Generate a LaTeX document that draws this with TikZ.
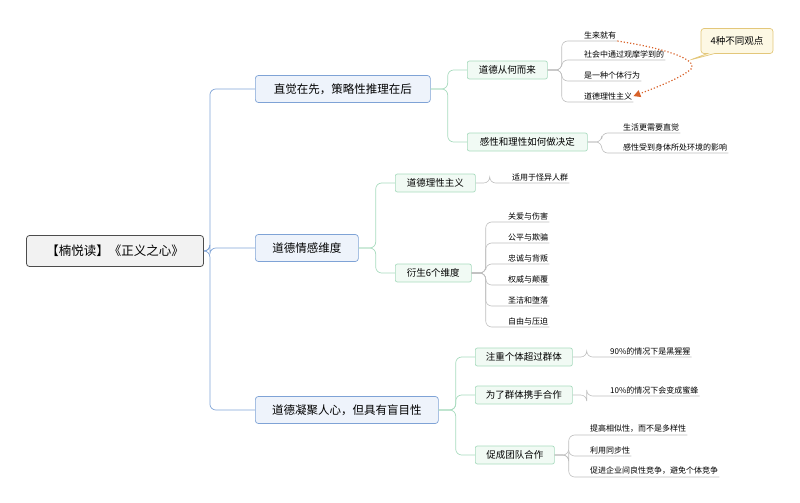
\documentclass[tikz,border=0pt]{standalone}
\usepackage{fontspec}
\setmainfont{Noto Sans CJK SC}
\usetikzlibrary{positioning,arrows.meta,shapes.callouts}
\definecolor{blueline}{HTML}{7FA3D6}
\definecolor{bluefill}{HTML}{EEF3FB}
\definecolor{greenline}{HTML}{A8DBBE}
\definecolor{greenfill}{HTML}{F1FAF4}
\definecolor{leafline}{HTML}{BDBDBD}
\definecolor{notefill}{HTML}{FDF8E4}
\definecolor{noteline}{HTML}{E3C77A}
\definecolor{dotorange}{HTML}{D8622A}
\begin{document}
\begin{tikzpicture}[x=1pt,y=-1pt]
\tikzset{root/.style={draw=black!70,fill=black!5,rounded corners=3pt,line width=0.8pt,minimum width=177pt,minimum height=31pt,font=\fontsize{12.5}{14}\selectfont},
topic/.style={anchor=west,draw=blueline,fill=bluefill,rounded corners=3pt,line width=0.7pt,minimum height=27pt,font=\fontsize{11.5}{13}\selectfont},
sub/.style={anchor=west,draw=greenline,fill=greenfill,rounded corners=2pt,line width=0.7pt,minimum height=18pt,font=\fontsize{9.5}{11}\selectfont},
leaf/.style={anchor=south west,inner xsep=1pt,inner ysep=2pt,font=\fontsize{8}{9}\selectfont},
bline/.style={blueline,line width=0.7pt,rounded corners=6pt},
gline/.style={greenline,line width=0.7pt,rounded corners=6pt},
lline/.style={leafline,line width=0.6pt,rounded corners=6pt}}
\useasboundingbox (0,0) rectangle (800,503);

\node[root] (book) at (115,251) {【楠悦读】《正义之心》};
\node[topic,minimum width=175pt] (t1) at (255,89) {直觉在先，策略性推理在后};
\node[topic,minimum width=103pt] (t2) at (255,248) {道德情感维度};
\node[topic,minimum width=183pt] (t3) at (255,410) {道德凝聚人心，但具有盲目性};
\foreach \t in {t1,t2,t3}
\draw[bline] (book.east) -- ++(6,0) |- (\t.west);

\node[sub,minimum width=80pt] (s1) at (467,70) {道德从何而来};
\node[sub,minimum width=120pt] (s2) at (467,142) {感性和理性如何做决定};
\node[sub,minimum width=80pt] (s3) at (395,183) {道德理性主义};
\node[sub,minimum width=76pt] (s4) at (395,273) {衍生6个维度};
\node[sub,minimum width=97pt] (s5) at (475,357) {注重个体超过群体};
\node[sub,minimum width=97pt] (s6) at (475,395) {为了群体携手合作};
\node[sub,minimum width=79pt] (s7) at (475,455) {促成团队合作};
\foreach \p/\s in {t1/s1,t1/s2,t2/s3,t2/s4,t3/s5,t3/s6,t3/s7}
\draw[gline] (\p.east) -- ++(17,0) |- (\s.west);

% leaves
\foreach \p/\x/\y/\n/\txt in {s1/583/41/a1/生来就有,s1/583/60/a2/社会中通过观摩学到的,s1/583/81/a3/是一种个体行为,s1/583/102/a4/道德理性主义,
s2/622/133/b1/生活更需要直觉,s2/622/153/b2/感性受到身体所处环境的影响,
s3/511/183/c1/适用于怪异人群,
s4/507/222/d1/关爱与伤害,s4/507/243/d2/公平与欺骗,s4/507/264/d3/忠诚与背叛,s4/507/285/d4/权威与颠覆,s4/507/306/d5/圣洁和堕落,s4/507/327/d6/自由与压迫,
s5/609/357/e1/90\%的情况下是黑猩猩,s6/609/396/f1/10\%的情况下会变成蜜蜂,
s7/589/435/g1/{提高相似性，而不是多样性},s7/589/456/g2/利用同步性,s7/589/477/g3/{促进企业间良性竞争，避免个体竞争}}
{
\node[leaf] (\n) at (\x,\y) {\txt};
\draw[lline] (\p.east) -- ++(14,0) |- (\n.south west) -- (\n.south east);
}

\node[draw=noteline,fill=notefill,rounded corners=3pt,line width=0.7pt,rectangle callout,callout absolute pointer={(690,60)},minimum width=72pt,minimum height=25pt,font=\fontsize{9.5}{11}\selectfont] (note) at (737,41) {4种不同观点};
\draw[dotorange,dotted,line width=1.2pt,-{Triangle[length=7pt,width=7pt]}] (a1.south east) .. controls (675,50) and (700,62) .. (690,70) .. controls (680,78) and (660,86) .. (a4.east);
\end{tikzpicture}
\end{document}
